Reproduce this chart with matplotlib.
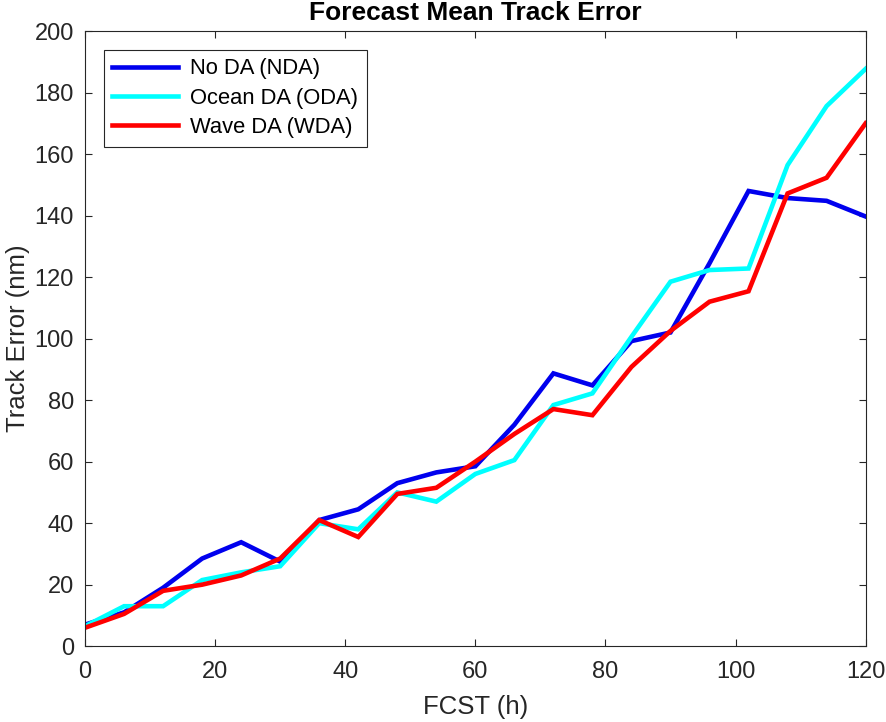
import numpy as np
import matplotlib.pyplot as plt

plt.rcParams['font.family'] = ['Liberation Sans', 'DejaVu Sans']

# forecast hours
fcst = [0, 6, 12, 18, 24, 30, 36, 42, 48, 54, 60, 66, 72, 78, 84, 90, 96, 102, 108, 114, 120]

# mean track error (nm)
nda = [7, 11, 19, 28.5, 33.8, 27.5, 41, 44.5, 53, 56.5, 58.5, 72, 88.7, 84.8, 99.2, 102, 124.5, 148, 145.7, 144.8, 139.7]
oda = [6.5, 13, 13, 21.5, 24, 26, 40, 38, 50, 47, 56, 60.5, 78.4, 82.2, 100.6, 118.5, 122.3, 122.8, 156.4, 175.6, 187.7]
wda = [6, 10.5, 18, 20, 23, 28.5, 41, 35.5, 49.5, 51.5, 60, 69, 77.1, 75.1, 90.8, 102.5, 112, 115.4, 147.2, 152.3, 170]

labels = ['No DA (NDA)', 'Ocean DA (ODA)', 'Wave DA (WDA)']
colors = ['#0000ee', '#00ffff', '#ff0000']

fig = plt.figure(figsize=(8.86, 7.22), dpi=100)
ax = fig.add_axes([0.096, 0.105, 0.881, 0.852])

for ys, lab, c in zip([nda, oda, wda], labels, colors):
    ax.plot(fcst, ys, color=c, lw=3.3, label=lab, solid_joinstyle='miter')

ax.set_xlim(0, 120)
ax.set_ylim(0, 200)
ax.set_xticks(np.arange(0, 121, 20))
ax.set_yticks(np.arange(0, 201, 20))
ax.tick_params(direction='in', top=True, right=True, labelsize=17, length=5, width=0.8, colors='#262626')
ax.tick_params(axis='x', pad=11)
ax.tick_params(axis='y', pad=8)
for s in ax.spines.values():
    s.set_color('#262626')
    s.set_linewidth(0.8)

ax.set_xlabel('FCST (h)', fontsize=18.5, color='#262626', labelpad=8)
ax.set_ylabel('Track Error (nm)', fontsize=18.5, color='#262626', labelpad=3)
ax.set_title('Forecast Mean Track Error', fontsize=19, fontweight='bold', pad=8)

leg = ax.legend(loc='upper left', fontsize=15.8, fancybox=False, edgecolor='#262626',
                framealpha=1, handlelength=3.0, handletextpad=0.55,
                borderaxespad=0.85, labelspacing=0.38)
leg.get_frame().set_linewidth(0.8)

fig.savefig('out.png', dpi=100)
